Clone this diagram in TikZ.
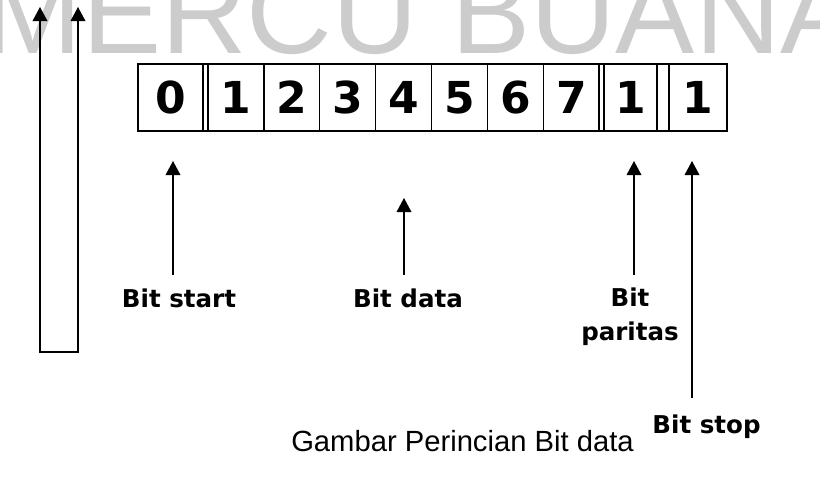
\documentclass[tikz,border=0pt]{standalone}
\usepackage{fontspec}
\newfontfamily\bitfont{DejaVu Sans}
\newfontfamily\capfont{Liberation Sans}
\usetikzlibrary{arrows.meta}
\newlength\pxu
\setlength\pxu{0.75pt}

\begin{document}
\begin{tikzpicture}[x=0.75pt, y=-0.75pt,
    cell/.style={draw, line width=1pt, inner sep=0pt, minimum height=67\pxu,
      font=\bitfont\bfseries\fontsize{33}{33}\selectfont},
    bitlabel/.style={inner sep=0pt, font=\bitfont\bfseries\fontsize{18.4}{25.5}\selectfont},
    arr/.style={line width=1pt, -{Triangle[length=10.5pt, width=11pt]}},
  ]
  \path[use as bounding box] (0,0) rectangle (820,486);

  % Watermark in the background
  \begin{scope}
    \clip (0,0) rectangle (820,486);
    \node[anchor=base west, inner sep=0pt, text=black!20,
      font=\capfont\fontsize{89}{89}\selectfont] (mark) at (-17,53) {MERCU BUANA};
  \end{scope}

  % Frame: start bit, data bits, parity bit, stop bit
  \node[cell, minimum width=65\pxu] (c0) at (170.5,97.5) {0};
  \node[cell, minimum width=5\pxu] (sepA) at (205.5,97.5) {};
  \foreach \i in {1,...,7} {
    \node[cell, minimum width=55.9\pxu] (c\i) at ({208+(\i-0.5)*55.9},97.5) {\i};
  }
  \node[cell, minimum width=5\pxu] (sepB) at (601.5,97.5) {};
  \node[cell, minimum width=53\pxu] (par) at (630.5,97.5) {1};
  \node[cell, minimum width=12\pxu] (sepC) at (663,97.5) {};
  \node[cell, minimum width=58\pxu] (stop) at (698,97.5) {1};

  % Labels
  \node[bitlabel, anchor=base] (startlbl) at (179,307) {Bit start};
  \node[bitlabel, anchor=base] (datalbl) at (408,307) {Bit data};
  \node[bitlabel, anchor=north, align=center] (parlbl) at (630,288) {Bit\\paritas};
  \node[bitlabel, anchor=base] (stoplbl) at (706.5,433) {Bit stop};
  \node[anchor=base, inner sep=0pt, font=\capfont\fontsize{21.9}{21.9}\selectfont]
    (caption) at (462.5,451) {Gambar Perincian Bit data};

  % Arrows up to the frame
  \coordinate (startfoot) at (173,275);  \coordinate (starttip) at (173,161);
  \coordinate (datafoot) at (404,275);   \coordinate (datatip) at (404,198);
  \coordinate (parfoot) at (634,275);    \coordinate (partip) at (634,161);
  \coordinate (stopfoot) at (692,398);   \coordinate (stoptip) at (692,161);
  \draw[arr] (startfoot) -- (starttip);
  \draw[arr] (datafoot) -- (datatip);
  \draw[arr] (parfoot) -- (partip);
  \draw[arr] (stopfoot) -- (stoptip);

  % Loop on the left
  \coordinate (loopLtip) at (40,7);
  \coordinate (loopLfoot) at (40,352);
  \coordinate (loopRfoot) at (78,352);
  \coordinate (loopRtip) at (78,7);
  \draw[line width=1pt, {Triangle[length=10.5pt, width=11pt]}-{Triangle[length=10.5pt, width=11pt]}]
    (loopLtip) -- (loopLfoot) -- (loopRfoot) -- (loopRtip);
\end{tikzpicture}
\end{document}
